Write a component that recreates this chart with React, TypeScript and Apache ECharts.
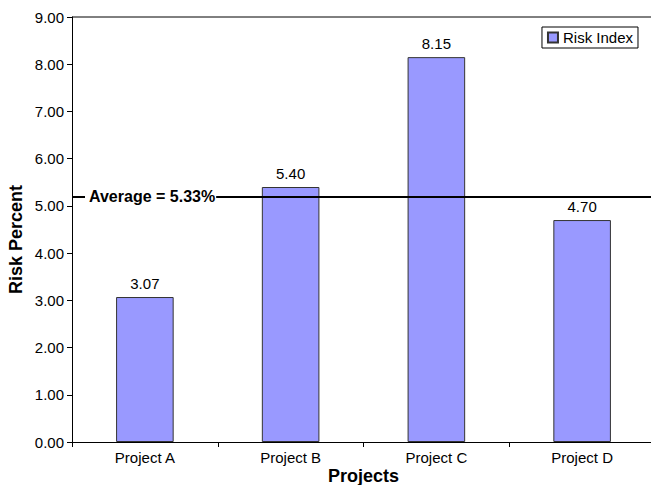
import React, { useEffect, useRef } from "react";
import * as echarts from "echarts";

const categories = ["Project A", "Project B", "Project C", "Project D"];
const riskValues = [3.07, 5.4, 8.15, 4.7];
const averageLineValue = 5.2;
const averageLabel = "Average = 5.33%";
const yTicks = [0, 1, 2, 3, 4, 5, 6, 7, 8, 9];

const FONT = "'Liberation Sans', Arial, sans-serif";

export default function App() {
  const ref = useRef<HTMLDivElement>(null);
  useEffect(() => {
    document.body.style.margin = "0";
    const chart = echarts.init(ref.current!, undefined, { renderer: "svg" });
    chart.setOption({
      animation: false,
      textStyle: { fontFamily: FONT },
      grid: { left: 72, top: 17, width: 583, height: 425, outerBoundsMode: "none", containLabel: false },
      legend: {
        right: 13,
        top: 27,
        data: [{ name: "Risk Index", icon: "rect" }],
        itemWidth: 10,
        itemHeight: 10,
        itemGap: 4,
        borderColor: "#000",
        borderWidth: 1,
        borderRadius: 0,
        padding: [3, 5, 3, 5],
        textStyle: { fontSize: 15, color: "#000", fontFamily: FONT },
      },
      xAxis: {
        type: "category",
        data: categories,
        name: "Projects",
        nameLocation: "middle",
        nameGap: 25,
        nameMoveOverlap: false,
        nameTextStyle: { fontSize: 18, fontWeight: "bold", color: "#000", fontFamily: FONT },
        axisLine: { lineStyle: { color: "#000", width: 1 } },
        axisTick: { show: true, alignWithLabel: false, length: 5, lineStyle: { color: "#000" } },
        axisLabel: { fontSize: 15, color: "#000", margin: 8, fontFamily: FONT },
      },
      yAxis: {
        type: "value",
        min: yTicks[0],
        max: yTicks[yTicks.length - 1],
        interval: 1,
        name: "Risk Percent",
        nameLocation: "middle",
        nameGap: 47,
        nameMoveOverlap: false,
        nameTextStyle: {
          fontSize: 18,
          fontWeight: "bold",
          color: "#000",
          fontFamily: FONT,
          padding: [0, 20, 0, 0],
        },
        axisLine: { show: true, lineStyle: { color: "#000", width: 1 } },
        axisTick: { show: true, length: 5, lineStyle: { color: "#000" } },
        axisLabel: {
          fontSize: 15,
          color: "#000",
          margin: 8,
          fontFamily: FONT,
          formatter: (v: number) => v.toFixed(2),
        },
        splitLine: { show: false },
      },
      series: [
        {
          name: "Risk Index",
          type: "bar",
          data: riskValues,
          barWidth: "39.5%",
          itemStyle: { color: "#9999FF", borderColor: "#333", borderWidth: 1 },
          label: {
            show: true,
            position: "top",
            distance: 6,
            fontSize: 15,
            color: "#000",
            fontFamily: FONT,
            formatter: (p: any) => Number(p.value).toFixed(2),
          },
          markLine: {
            silent: true,
            symbol: "none",
            lineStyle: { color: "#000", width: 2, type: "solid" },
            label: { show: false },
            data: [{ yAxis: averageLineValue }],
          },
        },
      ],
    });
    const yPix = chart.convertToPixel({ yAxisIndex: 0 }, averageLineValue) as number;
    chart.setOption({
      graphic: [
        {
          type: "line",
          shape: { x1: 72, y1: 17, x2: 656, y2: 17 },
          style: { stroke: "#000", lineWidth: 1 },
          z: 10,
        },
        {
          type: "text",
          x: 85,
          y: yPix,
          z: 20,
          style: {
            text: averageLabel,
            fontSize: 16,
            fontWeight: "bold",
            fontFamily: FONT,
            fill: "#000",
            backgroundColor: "#fff",
            padding: [1, 1, 1, 4],
            verticalAlign: "middle",
            align: "left",
          },
        },
      ],
    });
    return () => chart.dispose();
  }, []);
  return <div ref={ref} style={{ width: 651, height: 485 }} />;
}
